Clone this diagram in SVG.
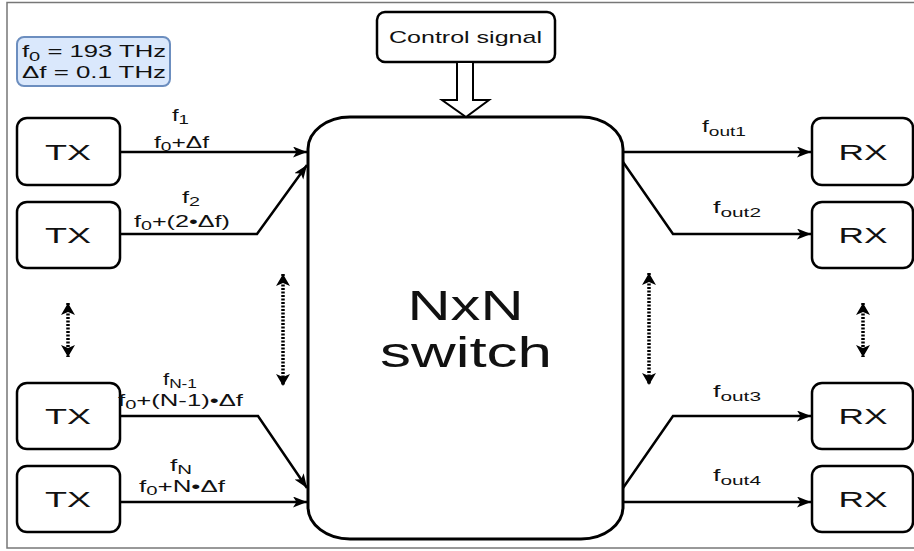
<svg xmlns="http://www.w3.org/2000/svg" width="914" height="551" viewBox="0 0 914 551">
<style>
text{font-family:"Liberation Sans",Arial,sans-serif;fill:#111}
.box{fill:#fff;stroke:#000;stroke-width:2.5}
.big{font-size:22px;text-anchor:middle}
.lbl{font-size:16px;text-anchor:middle}
.sub{font-size:12.5px}
.conn{fill:none;stroke:#000;stroke-width:2.5}
.dot{fill:none;stroke:#000;stroke-width:3.5;stroke-dasharray:2 1.5}
</style>
<defs>
<marker id="arr" markerUnits="userSpaceOnUse" markerWidth="15" markerHeight="12" refX="14" refY="5.5" orient="auto">
<path d="M0,0 L14,5.5 L0,11 L3.5,5.5 Z" fill="#000"/>
</marker>
<marker id="tri" markerUnits="userSpaceOnUse" markerWidth="14" markerHeight="16" refX="12" refY="7" orient="auto-start-reverse">
<path d="M0,0 L12,7 L0,14 L3,7 Z" fill="#000"/>
</marker>
</defs>
<rect x="7" y="2.5" width="920" height="545.5" fill="#fff" stroke="#777" stroke-width="1.5"/>

<g id="params">
<rect x="17" y="37" width="153" height="49" rx="7" fill="#dae8fc" stroke="#6c8ebf" stroke-width="2"/>
<text x="22" y="57" font-size="16" textLength="144" lengthAdjust="spacingAndGlyphs">f<tspan class="sub" dy="4">0</tspan><tspan dy="-4"> = 193 THz</tspan></text>
<text x="22" y="78" font-size="16" textLength="144" lengthAdjust="spacingAndGlyphs">Δf = 0.1 THz</text>
</g>

<g id="control">
<rect class="box" x="377" y="12" width="178" height="50" rx="8"/>
<text x="465.5" y="43" font-size="17" text-anchor="middle" textLength="153" lengthAdjust="spacingAndGlyphs">Control signal</text>
</g>

<g id="switch">
<rect x="308" y="117" width="315" height="422" rx="42" ry="32" fill="#fff" stroke="#000" stroke-width="3"/>
<text x="465.5" y="320" font-size="42" text-anchor="middle" textLength="116" lengthAdjust="spacingAndGlyphs">NxN</text>
<text x="466" y="367" font-size="42" text-anchor="middle" textLength="172" lengthAdjust="spacingAndGlyphs">switch</text>
</g>

<g id="tx1"><rect class="box" x="17" y="118" width="103" height="67" rx="10"/><text class="big" x="68" y="160" textLength="46" lengthAdjust="spacingAndGlyphs">TX</text></g>
<g id="tx2"><rect class="box" x="17" y="202" width="103" height="66" rx="10"/><text class="big" x="68" y="243" textLength="46" lengthAdjust="spacingAndGlyphs">TX</text></g>
<g id="tx3"><rect class="box" x="17" y="383" width="103" height="66" rx="10"/><text class="big" x="68" y="424" textLength="46" lengthAdjust="spacingAndGlyphs">TX</text></g>
<g id="tx4"><rect class="box" x="17" y="466" width="103" height="66" rx="10"/><text class="big" x="68" y="507" textLength="46" lengthAdjust="spacingAndGlyphs">TX</text></g>

<g id="rx1"><rect class="box" x="812" y="118" width="101" height="67" rx="10"/><text class="big" x="863" y="160" textLength="49" lengthAdjust="spacingAndGlyphs">RX</text></g>
<g id="rx2"><rect class="box" x="812" y="202" width="101" height="66" rx="10"/><text class="big" x="863" y="243" textLength="49" lengthAdjust="spacingAndGlyphs">RX</text></g>
<g id="rx3"><rect class="box" x="812" y="383" width="101" height="66" rx="10"/><text class="big" x="863" y="424" textLength="49" lengthAdjust="spacingAndGlyphs">RX</text></g>
<g id="rx4"><rect class="box" x="812" y="466" width="101" height="66" rx="10"/><text class="big" x="863" y="507" textLength="49" lengthAdjust="spacingAndGlyphs">RX</text></g>

<g id="connectors">
<polygon points="457,62 457,100 442,100 466,117 489,100 473,100 473,62" fill="#fff" stroke="#000" stroke-width="2"/>
<path class="conn" d="M120,152 H307" marker-end="url(#arr)"/>
<path class="conn" d="M120,234 H257 L307,165" marker-end="url(#arr)"/>
<path class="conn" d="M120,416 H258 L307,488" marker-end="url(#arr)"/>
<path class="conn" d="M120,502 H307" marker-end="url(#arr)"/>
<path class="conn" d="M623,152 H811" marker-end="url(#arr)"/>
<path class="conn" d="M623,162 L673,234 H811" marker-end="url(#arr)"/>
<path class="conn" d="M623,488 L673,416 H811" marker-end="url(#arr)"/>
<path class="conn" d="M623,502 H811" marker-end="url(#arr)"/>
<path class="dot" d="M68,303 V357" marker-start="url(#tri)" marker-end="url(#tri)"/>
<path class="dot" d="M283,274 V386" marker-start="url(#tri)" marker-end="url(#tri)"/>
<path class="dot" d="M649,273 V385" marker-start="url(#tri)" marker-end="url(#tri)"/>
<path class="dot" d="M863,303 V357" marker-start="url(#tri)" marker-end="url(#tri)"/>
<text class="lbl" x="180.5" y="121" textLength="17" lengthAdjust="spacingAndGlyphs">f<tspan class="sub" dy="3">1</tspan></text>
<text class="lbl" x="181.5" y="148" textLength="55" lengthAdjust="spacingAndGlyphs">f<tspan class="sub" dy="3">0</tspan><tspan dy="-3">+Δf</tspan></text>
<text class="lbl" x="191" y="203" textLength="18" lengthAdjust="spacingAndGlyphs">f<tspan class="sub" dy="3">2</tspan></text>
<text class="lbl" x="182" y="227" textLength="96" lengthAdjust="spacingAndGlyphs">f<tspan class="sub" dy="3">0</tspan><tspan dy="-3">+(2•Δf)</tspan></text>
<text class="lbl" x="180" y="385" textLength="34" lengthAdjust="spacingAndGlyphs">f<tspan class="sub" dy="3">N-1</tspan></text>
<text class="lbl" x="180.5" y="406" textLength="125" lengthAdjust="spacingAndGlyphs">f<tspan class="sub" dy="3">0</tspan><tspan dy="-3">+(N-1)•Δf</tspan></text>
<text class="lbl" x="181" y="471" textLength="22" lengthAdjust="spacingAndGlyphs">f<tspan class="sub" dy="3">N</tspan></text>
<text class="lbl" x="182" y="492" textLength="86" lengthAdjust="spacingAndGlyphs">f<tspan class="sub" dy="3">0</tspan><tspan dy="-3">+N•Δf</tspan></text>
<text class="lbl" x="724" y="132" textLength="44" lengthAdjust="spacingAndGlyphs">f<tspan class="sub" dy="4">out1</tspan></text>
<text class="lbl" x="737" y="213" textLength="48" lengthAdjust="spacingAndGlyphs">f<tspan class="sub" dy="4">out2</tspan></text>
<text class="lbl" x="737" y="397" textLength="48" lengthAdjust="spacingAndGlyphs">f<tspan class="sub" dy="4">out3</tspan></text>
<text class="lbl" x="737" y="481" textLength="48" lengthAdjust="spacingAndGlyphs">f<tspan class="sub" dy="4">out4</tspan></text>
</g>
</svg>
